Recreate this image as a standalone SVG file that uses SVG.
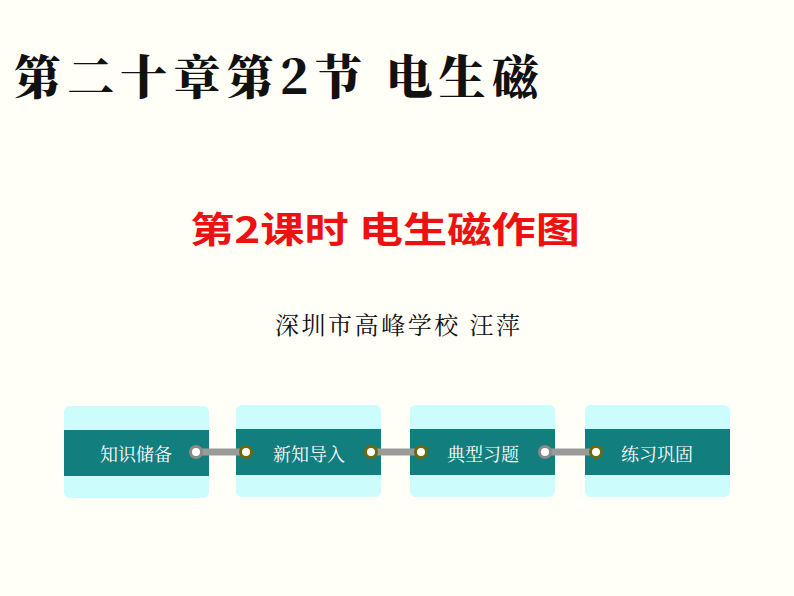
<svg xmlns="http://www.w3.org/2000/svg" width="794" height="596" viewBox="0 0 794 596">
<style>
.box{fill:#ccfcfc}
.band{fill:#127e7e}
.lbl{font-family:"Noto Serif CJK SC","Noto Sans CJK SC",serif;font-size:18px;fill:#fff;text-anchor:middle}
.bar{stroke:#9a9a9a;stroke-width:7}
.l{fill:#fff;stroke:#8a8a8a;stroke-width:3}
.r{fill:#fff;stroke:#6a6a10;stroke-width:3}
</style>
<rect width="794" height="596" fill="#fffef7"/>
<text x="14" y="94" font-family="Noto Serif CJK SC,Noto Sans CJK SC,serif" font-weight="900" font-size="47" fill="#111" textLength="525" lengthAdjust="spacing">第二十章第2节  电生磁</text>
<text x="190" y="243" font-family="Noto Sans CJK SC,sans-serif" font-weight="bold" font-size="36" fill="#ee1111" textLength="390" lengthAdjust="spacingAndGlyphs">第2课时 电生磁作图</text>
<text x="275" y="334" font-family="Noto Serif CJK SC,Noto Sans CJK SC,serif" font-size="24" fill="#111" textLength="245" lengthAdjust="spacing">深圳市高峰学校 汪萍</text>
<g id="n1"><rect class="box" x="64" y="406" width="145" height="92" rx="6"/><rect class="band" x="64" y="430" width="145" height="46"/><text class="lbl" x="136" y="461">知识储备</text></g>
<g id="n2"><rect class="box" x="236" y="405" width="145" height="92" rx="6"/><rect class="band" x="236" y="429" width="145" height="46"/><text class="lbl" x="309" y="461">新知导入</text></g>
<g id="n3"><rect class="box" x="410" y="405" width="145" height="92" rx="6"/><rect class="band" x="410" y="429" width="145" height="46"/><text class="lbl" x="483" y="461">典型习题</text></g>
<g id="n4"><rect class="box" x="585" y="405" width="145" height="92" rx="6"/><rect class="band" x="585" y="429" width="145" height="46"/><text class="lbl" x="657" y="461">练习巩固</text></g>
<g id="connectors">
<line class="bar" x1="196" y1="452" x2="246" y2="452"/><circle class="l" cx="196" cy="452" r="5.5"/><circle class="r" cx="246" cy="452" r="5.5"/>
<line class="bar" x1="371" y1="452" x2="421" y2="452"/><circle class="r" cx="371" cy="452" r="5.5"/><circle class="r" cx="421" cy="452" r="5.5"/>
<line class="bar" x1="545" y1="452" x2="596" y2="452"/><circle class="l" cx="545" cy="452" r="5.5"/><circle class="r" cx="596" cy="452" r="5.5"/>
</g>
</svg>
